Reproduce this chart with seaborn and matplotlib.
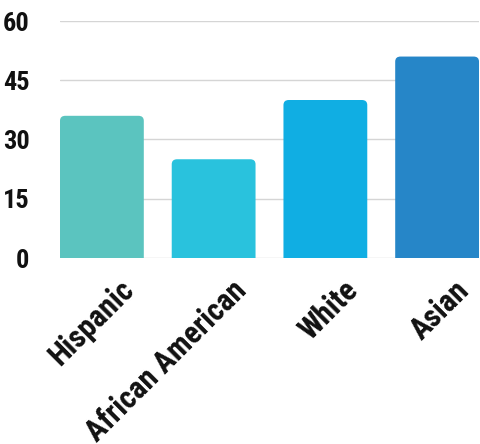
import matplotlib
matplotlib.use("Agg")
import matplotlib.pyplot as plt
import matplotlib.transforms as mtransforms
from matplotlib.patches import FancyBboxPatch
import seaborn as sns
import pandas as pd

categories = ["Hispanic", "African American", "White", "Asian"]
values = [36, 25, 40, 51]
colors = ["#5BC4BF", "#29C2DD", "#10AEE3", "#2686C8"]
yticks = [0, 15, 30, 45, 60]

sns.set_theme(style="white")
plt.rcParams['font.family'] = ['Roboto Condensed', 'DejaVu Sans']

df = pd.DataFrame({"cat": categories, "val": values})

fig = plt.figure(figsize=(4.81, 4.44), dpi=100)
ax = fig.add_axes([60/481, 1-258/444, 419/481, 237/444])
sns.barplot(data=df, x="cat", y="val", hue="cat", palette=colors, width=0.75,
            legend=False, ax=ax, saturation=1)

px_x = 419/4.0
px_y = 237/60.0
for p in list(ax.patches):
    x, w, h = p.get_x(), p.get_width(), p.get_height()
    fc = p.get_facecolor()
    p.remove()
    r = 5/px_x
    fb = FancyBboxPatch((x, -5), w, h + 5,
                        boxstyle=f"round,pad=0,rounding_size={r}",
                        mutation_aspect=px_x/px_y,
                        facecolor=fc, edgecolor="none", zorder=2)
    ax.add_patch(fb)

ax.set_xlim(-0.5 + 0.125, 3.5 - 0.125)
ax.set_ylim(0, 60)
ax.set_yticks(yticks)
ax.set_yticklabels([str(t) for t in yticks], fontsize=19, fontweight='bold', color='#111111')
ax.yaxis.grid(True, color='#d5d5d5', linewidth=1)
ax.set_axisbelow(True)
for s in ax.spines.values():
    s.set_visible(False)
ax.tick_params(axis='y', length=0, pad=22)
ax.tick_params(axis='x', length=0, pad=2)
ax.set_xlabel("")
ax.set_ylabel("")
ax.set_xticks(range(len(categories)))
ax.set_xticklabels(categories, rotation=45, ha='right', rotation_mode='anchor',
                   fontsize=22, fontweight='bold', color='#111111')
offset = mtransforms.ScaledTranslation(17/100, -14/100, fig.dpi_scale_trans)
for lbl in ax.get_xticklabels():
    lbl.set_transform(lbl.get_transform() + offset)

fig.savefig("out.png", dpi=100)
